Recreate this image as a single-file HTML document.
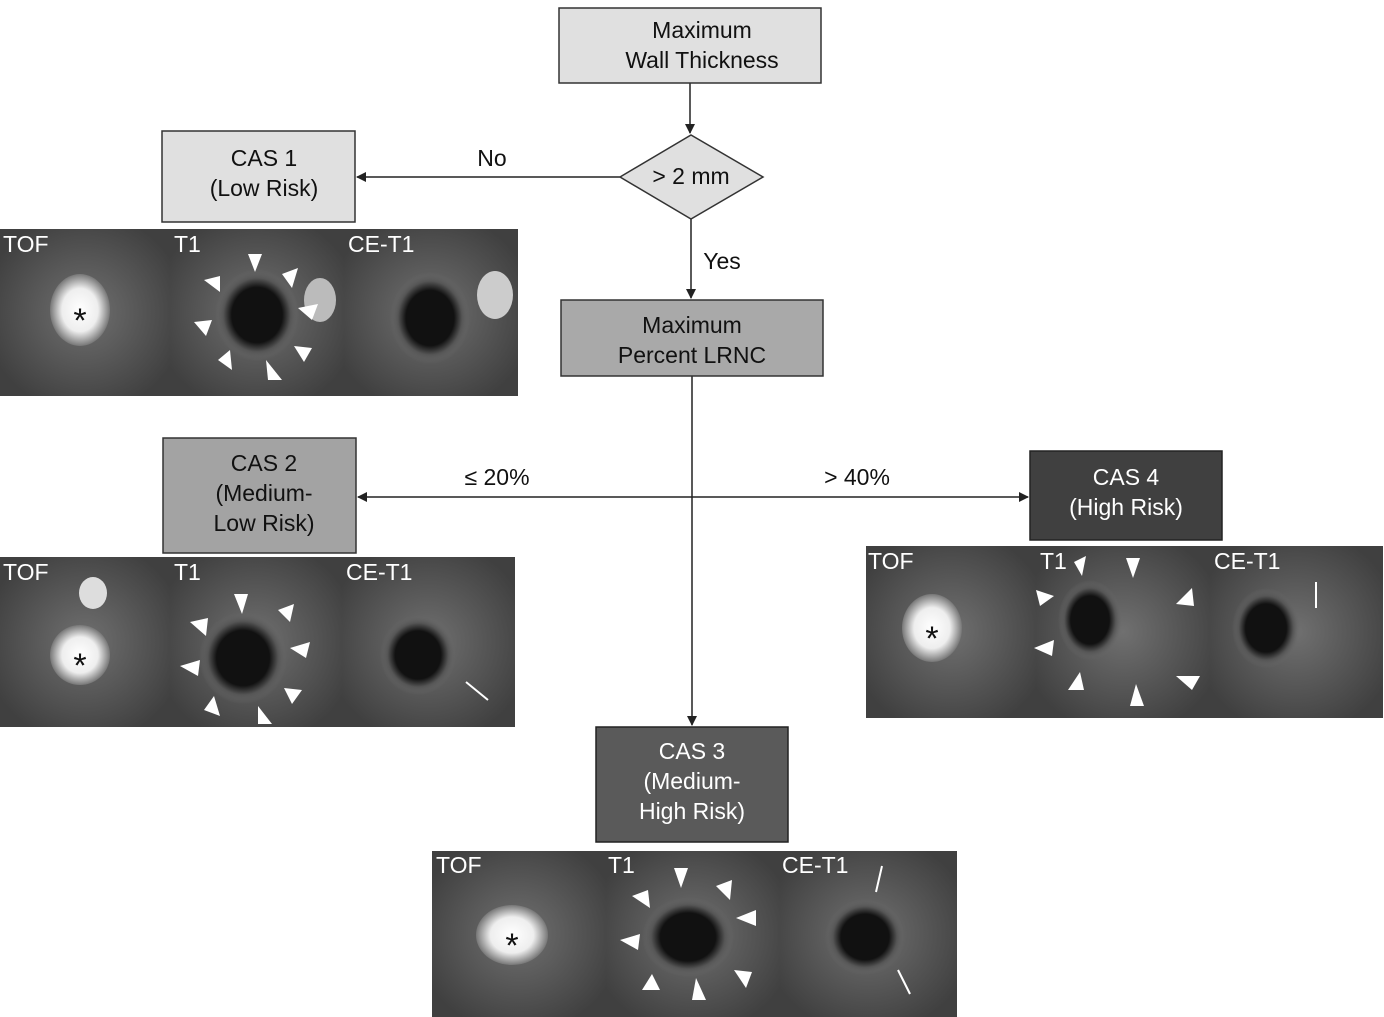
<!DOCTYPE html>
<html><head><meta charset="utf-8"><style>
html,body{margin:0;padding:0;background:#fff;}
svg{display:block;font-family:"Liberation Sans",sans-serif;}
</style></head><body>
<svg width="1384" height="1017" viewBox="0 0 1384 1017" xmlns="http://www.w3.org/2000/svg">
<defs>
<marker id="ar" markerWidth="10" markerHeight="10" refX="9" refY="5" orient="auto" markerUnits="userSpaceOnUse">
<path d="M0,0 L10,5 L0,10 z" fill="#222"/></marker>
<radialGradient id="bg" cx="50%" cy="50%" r="60%"><stop offset="0" stop-color="#707070"/><stop offset="1" stop-color="#404040"/></radialGradient>
<radialGradient id="tof" cx="50%" cy="50%" r="50%"><stop offset="0" stop-color="#fff"/><stop offset="0.6" stop-color="#eee"/><stop offset="1" stop-color="#777"/></radialGradient>
<radialGradient id="ring" cx="50%" cy="50%" r="50%"><stop offset="0.6" stop-color="#111"/><stop offset="0.8" stop-color="#555"/><stop offset="1" stop-color="#6a6a6a" stop-opacity="0"/></radialGradient>
</defs>

<g stroke="#222" stroke-width="1.5" fill="none">
<line x1="690" y1="83" x2="690" y2="133" marker-end="url(#ar)"/>
<line x1="620" y1="177" x2="357" y2="177" marker-end="url(#ar)"/>
<line x1="691" y1="219" x2="691" y2="298" marker-end="url(#ar)"/>
<line x1="692" y1="376" x2="692" y2="725" marker-end="url(#ar)"/>
<line x1="692" y1="497" x2="358" y2="497" marker-end="url(#ar)"/>
<line x1="692" y1="497" x2="1028" y2="497" marker-end="url(#ar)"/>
</g>

<rect x="559" y="8" width="262" height="75" fill="#e0e0e0" stroke="#333" stroke-width="1.5"/>
<text x="702" y="38" font-size="23" text-anchor="middle" fill="#111">Maximum</text>
<text x="702" y="68" font-size="23" text-anchor="middle" fill="#111">Wall Thickness</text>

<polygon points="620,177 691,135 763,177 691,219" fill="#e0e0e0" stroke="#333" stroke-width="1.5"/>
<text x="691" y="184" font-size="23" text-anchor="middle" fill="#111">&gt; 2 mm</text>
<text x="492" y="166" font-size="23" text-anchor="middle" fill="#111">No</text>
<text x="722" y="269" font-size="23" text-anchor="middle" fill="#111">Yes</text>

<rect x="162" y="131" width="193" height="91" fill="#e0e0e0" stroke="#333" stroke-width="1.5"/>
<text x="264" y="166" font-size="23" text-anchor="middle" fill="#111">CAS 1</text>
<text x="264" y="196" font-size="23" text-anchor="middle" fill="#111">(Low Risk)</text>

<rect x="561" y="300" width="262" height="76" fill="#a9a9a9" stroke="#333" stroke-width="1.5"/>
<text x="692" y="333" font-size="23" text-anchor="middle" fill="#111">Maximum</text>
<text x="692" y="363" font-size="23" text-anchor="middle" fill="#111">Percent LRNC</text>

<text x="497" y="485" font-size="23" text-anchor="middle" fill="#111">≤ 20%</text>
<text x="857" y="485" font-size="23" text-anchor="middle" fill="#111">&gt; 40%</text>

<rect x="163" y="438" width="193" height="115" fill="#a3a3a3" stroke="#333" stroke-width="1.5"/>
<text x="264" y="471" font-size="23" text-anchor="middle" fill="#111">CAS 2</text>
<text x="264" y="501" font-size="23" text-anchor="middle" fill="#111">(Medium-</text>
<text x="264" y="531" font-size="23" text-anchor="middle" fill="#111">Low Risk)</text>

<rect x="1030" y="451" width="192" height="89" fill="#404040" stroke="#222" stroke-width="1.5"/>
<text x="1126" y="485" font-size="23" text-anchor="middle" fill="#fff">CAS 4</text>
<text x="1126" y="515" font-size="23" text-anchor="middle" fill="#fff">(High Risk)</text>

<rect x="596" y="727" width="192" height="115" fill="#5a5a5a" stroke="#222" stroke-width="1.5"/>
<text x="692" y="759" font-size="23" text-anchor="middle" fill="#fff">CAS 3</text>
<text x="692" y="789" font-size="23" text-anchor="middle" fill="#fff">(Medium-</text>
<text x="692" y="819" font-size="23" text-anchor="middle" fill="#fff">High Risk)</text>

<g>
<rect x="0" y="229" width="170" height="167" fill="url(#bg)"/><rect x="170" y="229" width="174" height="167" fill="url(#bg)"/><rect x="344" y="229" width="174" height="167" fill="url(#bg)"/>
<ellipse cx="80" cy="310" rx="30" ry="36" fill="url(#tof)"/>
<text x="80" y="332" font-size="34" text-anchor="middle" fill="#111">*</text>
<ellipse cx="257" cy="315" rx="42" ry="46" fill="url(#ring)"/>
<ellipse cx="430" cy="318" rx="40" ry="46" fill="url(#ring)"/>
<ellipse cx="495" cy="295" rx="18" ry="24" fill="#ccc"/>
<ellipse cx="320" cy="300" rx="16" ry="22" fill="#bbb"/>
<g fill="#fff"><polygon points="248,254 262,254 255,272"/><polygon points="204,280 220,276 220,292"/><polygon points="194,322 212,320 206,336"/><polygon points="218,360 230,350 232,370"/><polygon points="266,360 282,380 268,380"/><polygon points="294,346 312,348 304,362"/><polygon points="298,308 318,304 312,320"/><polygon points="282,274 298,268 292,288"/></g>
<text x="3" y="252" font-size="23" fill="#fff">TOF</text><text x="174" y="252" font-size="23" fill="#fff">T1</text><text x="348" y="252" font-size="23" fill="#fff">CE-T1</text>
</g>

<g>
<rect x="0" y="557" width="170" height="170" fill="url(#bg)"/><rect x="170" y="557" width="172" height="170" fill="url(#bg)"/><rect x="342" y="557" width="173" height="170" fill="url(#bg)"/>
<ellipse cx="80" cy="655" rx="30" ry="30" fill="url(#tof)"/>
<ellipse cx="93" cy="593" rx="14" ry="16" fill="#ddd"/>
<text x="80" y="677" font-size="34" text-anchor="middle" fill="#111">*</text>
<ellipse cx="243" cy="658" rx="44" ry="46" fill="url(#ring)"/>
<ellipse cx="418" cy="655" rx="38" ry="40" fill="url(#ring)"/>
<g fill="#fff"><polygon points="234,594 248,594 242,614"/><polygon points="190,622 208,618 206,636"/><polygon points="180,666 200,660 198,676"/><polygon points="204,710 214,696 220,716"/><polygon points="258,706 272,724 258,724"/><polygon points="284,688 302,690 292,704"/><polygon points="290,648 310,642 306,658"/><polygon points="278,610 294,604 290,622"/></g>
<line x1="488" y1="700" x2="466" y2="682" stroke="#fff" stroke-width="2"/>
<text x="3" y="580" font-size="23" fill="#fff">TOF</text><text x="174" y="580" font-size="23" fill="#fff">T1</text><text x="346" y="580" font-size="23" fill="#fff">CE-T1</text>
</g>

<g>
<rect x="866" y="546" width="170" height="172" fill="url(#bg)"/><rect x="1036" y="546" width="174" height="172" fill="url(#bg)"/><rect x="1210" y="546" width="173" height="172" fill="url(#bg)"/>
<ellipse cx="932" cy="628" rx="30" ry="34" fill="url(#tof)"/>
<text x="932" y="650" font-size="34" text-anchor="middle" fill="#111">*</text>
<ellipse cx="1090" cy="620" rx="32" ry="40" fill="url(#ring)"/>
<ellipse cx="1266" cy="628" rx="34" ry="40" fill="url(#ring)"/>
<g fill="#fff"><polygon points="1126,558 1140,558 1133,578"/><polygon points="1036,590 1054,596 1040,606"/><polygon points="1034,648 1054,640 1052,656"/><polygon points="1068,690 1080,672 1084,690"/><polygon points="1130,706 1136,684 1144,706"/><polygon points="1176,676 1200,676 1192,690"/><polygon points="1176,604 1192,588 1194,606"/><polygon points="1074,562 1086,556 1082,576"/></g>
<line x1="1316" y1="582" x2="1316" y2="608" stroke="#fff" stroke-width="2"/>
<text x="868" y="569" font-size="23" fill="#fff">TOF</text><text x="1040" y="569" font-size="23" fill="#fff">T1</text><text x="1214" y="569" font-size="23" fill="#fff">CE-T1</text>
</g>

<g>
<rect x="432" y="851" width="174" height="166" fill="url(#bg)"/><rect x="606" y="851" width="174" height="166" fill="url(#bg)"/><rect x="780" y="851" width="177" height="166" fill="url(#bg)"/>
<ellipse cx="512" cy="935" rx="36" ry="30" fill="url(#tof)"/>
<text x="512" y="957" font-size="34" text-anchor="middle" fill="#111">*</text>
<ellipse cx="688" cy="937" rx="46" ry="40" fill="url(#ring)"/>
<ellipse cx="865" cy="937" rx="40" ry="38" fill="url(#ring)"/>
<g fill="#fff"><polygon points="674,868 688,868 681,888"/><polygon points="632,896 648,890 650,908"/><polygon points="620,940 640,934 638,950"/><polygon points="642,990 652,974 660,990"/><polygon points="696,978 706,1000 692,1000"/><polygon points="734,970 752,972 746,988"/><polygon points="736,918 756,910 756,926"/><polygon points="716,886 732,880 730,900"/></g>
<line x1="882" y1="866" x2="876" y2="892" stroke="#fff" stroke-width="2"/>
<line x1="910" y1="994" x2="898" y2="970" stroke="#fff" stroke-width="2"/>
<text x="436" y="873" font-size="23" fill="#fff">TOF</text><text x="608" y="873" font-size="23" fill="#fff">T1</text><text x="782" y="873" font-size="23" fill="#fff">CE-T1</text>
</g>
</svg>
</body></html>
